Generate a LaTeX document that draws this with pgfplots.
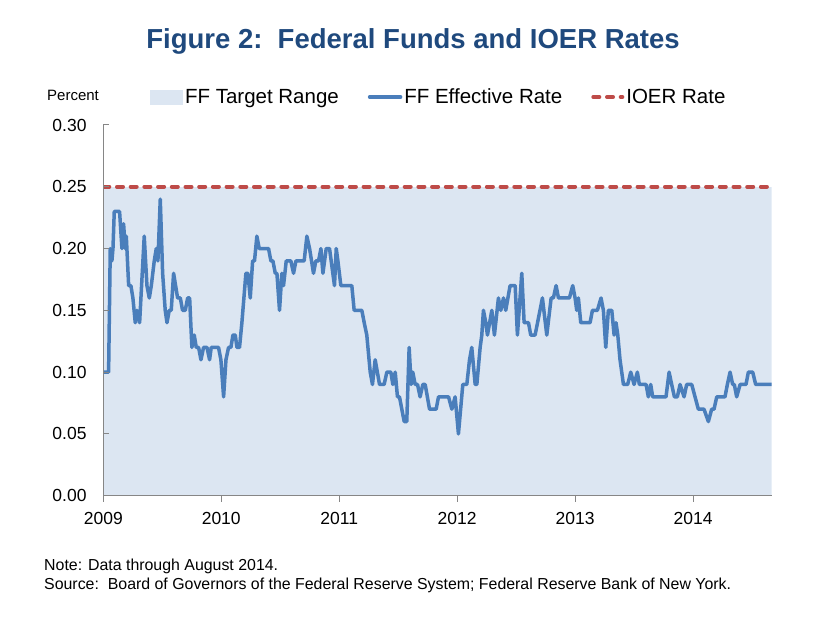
\documentclass[border=0pt]{standalone}
\usepackage{fontspec}
\setmainfont{Liberation Sans}
\usepackage{pgfplots}
\pgfplotsset{compat=1.18}
\definecolor{titleblue}{HTML}{1F497D}
\definecolor{ffblue}{HTML}{4A7EBB}
\definecolor{ioerred}{HTML}{BE4B48}
\definecolor{rangefill}{HTML}{DCE6F2}
\definecolor{axgray}{HTML}{868686}
\begin{document}
\begin{tikzpicture}
\path[use as bounding box] (0pt,0pt) rectangle (824pt,617pt);
\node[anchor=base, text=titleblue, font=\fontsize{27.5}{30}\selectfont\bfseries, inner sep=0pt] at (413pt,568.7pt) {Figure 2:\ \ Federal Funds and IOER Rates};
\node[anchor=base west, font=\fontsize{15}{17}\selectfont, inner sep=0pt] at (47pt,516pt) {Percent};
\node[anchor=base west, font=\fontsize{15.9}{18}\selectfont, inner sep=0pt] at (44pt,46.3pt) {Note: Data through August 2014.};
\node[anchor=base west, font=\fontsize{15.9}{18}\selectfont, inner sep=0pt] at (44pt,27.7pt) {Source:\ \ Board of Governors of the Federal Reserve System; Federal Reserve Bank of New York.};
\begin{axis}[
  at={(103.3pt,121.3pt)}, anchor=south west,
  scale only axis, width=668.4pt, height=370.7pt,
  xmin=2009, xmax=2014.667, ymin=0, ymax=0.30,
  enlargelimits=false,
  axis lines*=left,
  axis line style={draw=axgray, line width=1pt},
  axis on top,
  xtick={2009,2010,2011,2012,2013,2014},
  xticklabels={2009,2010,2011,2012,2013,2014},
  ytick={0,0.05,0.10,0.15,0.20,0.25,0.30},
  xtick align=outside, ytick align=inside,
  major tick length=6pt,
  tick style={draw=axgray, line width=1pt},
  yticklabel style={font=\fontsize{17.5}{20}\selectfont, inner sep=0pt, xshift=-16.6pt,
    /pgf/number format/.cd, fixed, fixed zerofill, precision=2, assume math mode=true},
  xticklabel style={font=\fontsize{17.5}{20}\selectfont, inner sep=0pt, yshift=-10pt},
  legend style={at={(0.0699,1.0755)}, anchor=west, draw=none, fill=none, inner sep=0pt, outer sep=0pt,
    font=\fontsize{20.5}{22}\selectfont, legend columns=3,
    nodes={inner sep=0pt},
    /tikz/every odd column/.style={column sep=2pt},
    /tikz/every even column/.style={column sep=29pt}},
  legend cell align=left,
]
\addplot[fill=rangefill, draw=none, area legend,
  legend image code/.code={\fill[rangefill] (0pt,-7.5pt) rectangle (33pt,7.5pt);}]
  coordinates {(2009,0.25) (2014.667,0.25)} \closedcycle;
\addlegendentry{FF Target Range}
\addplot[color=ffblue, line width=3.5pt, line join=round, line cap=round,
  legend image code/.code={\draw[ffblue, line width=3.5pt] (0pt,0pt) -- (31pt,0pt);}]
  coordinates {
(2009.003,0.10) (2009.045,0.10) (2009.059,0.20) (2009.073,0.19) (2009.082,0.20)
(2009.093,0.23) (2009.138,0.23) (2009.158,0.20) (2009.172,0.22) (2009.186,0.20)
(2009.195,0.21) (2009.215,0.17) (2009.234,0.17) (2009.251,0.16) (2009.271,0.14)
(2009.285,0.15) (2009.308,0.14) (2009.319,0.16) (2009.347,0.21) (2009.370,0.17)
(2009.390,0.16) (2009.407,0.17) (2009.432,0.19) (2009.449,0.20) (2009.463,0.19)
(2009.483,0.24) (2009.503,0.18) (2009.525,0.15) (2009.540,0.14) (2009.559,0.15)
(2009.576,0.15) (2009.596,0.18) (2009.630,0.16) (2009.653,0.16) (2009.672,0.15)
(2009.695,0.15) (2009.715,0.16) (2009.732,0.16) (2009.751,0.12) (2009.771,0.13)
(2009.788,0.12) (2009.808,0.12) (2009.828,0.11) (2009.850,0.12) (2009.879,0.12)
(2009.901,0.11) (2009.915,0.12) (2009.977,0.12) (2009.997,0.11) (2010.020,0.08)
(2010.040,0.11) (2010.062,0.12) (2010.082,0.12) (2010.099,0.13) (2010.119,0.13)
(2010.133,0.12) (2010.155,0.12) (2010.175,0.14) (2010.209,0.18) (2010.226,0.18)
(2010.246,0.16) (2010.266,0.19) (2010.282,0.19) (2010.302,0.21) (2010.322,0.20)
(2010.401,0.20) (2010.421,0.19) (2010.438,0.19) (2010.458,0.18) (2010.472,0.18)
(2010.494,0.15) (2010.514,0.18) (2010.528,0.17) (2010.551,0.19) (2010.590,0.19)
(2010.613,0.18) (2010.633,0.19) (2010.703,0.19) (2010.726,0.21) (2010.749,0.20)
(2010.782,0.18) (2010.802,0.19) (2010.825,0.19) (2010.845,0.20) (2010.862,0.18)
(2010.890,0.20) (2010.918,0.20) (2010.946,0.18) (2010.960,0.17) (2010.975,0.20)
(2010.989,0.19) (2011.014,0.17) (2011.031,0.17) (2011.107,0.17) (2011.127,0.15)
(2011.192,0.15) (2011.212,0.14) (2011.234,0.13) (2011.263,0.10) (2011.282,0.09)
(2011.305,0.11) (2011.342,0.09) (2011.381,0.09) (2011.404,0.10) (2011.438,0.10)
(2011.455,0.09) (2011.475,0.10) (2011.494,0.08) (2011.511,0.08) (2011.551,0.06)
(2011.573,0.06) (2011.593,0.12) (2011.610,0.09) (2011.624,0.10) (2011.644,0.09)
(2011.664,0.09) (2011.686,0.08) (2011.709,0.09) (2011.729,0.09) (2011.766,0.07)
(2011.822,0.07) (2011.842,0.08) (2011.927,0.08) (2011.955,0.07) (2011.983,0.08)
(2012.011,0.05) (2012.048,0.09) (2012.082,0.09) (2012.105,0.11) (2012.124,0.12)
(2012.153,0.09) (2012.167,0.09) (2012.195,0.12) (2012.209,0.13) (2012.223,0.15)
(2012.243,0.14) (2012.257,0.13) (2012.294,0.15) (2012.316,0.13) (2012.350,0.16)
(2012.370,0.15) (2012.393,0.16) (2012.412,0.15) (2012.449,0.17) (2012.492,0.17)
(2012.511,0.13) (2012.548,0.18) (2012.568,0.14) (2012.605,0.14) (2012.624,0.13)
(2012.661,0.13) (2012.723,0.16) (2012.760,0.13) (2012.797,0.16) (2012.816,0.16)
(2012.839,0.17) (2012.859,0.16) (2012.952,0.16) (2012.980,0.17) (2013.000,0.16)
(2013.014,0.15) (2013.028,0.16) (2013.048,0.14) (2013.127,0.14) (2013.147,0.15)
(2013.189,0.15) (2013.220,0.16) (2013.240,0.15) (2013.260,0.12) (2013.282,0.15)
(2013.311,0.15) (2013.331,0.13) (2013.347,0.14) (2013.362,0.13) (2013.381,0.11)
(2013.410,0.09) (2013.446,0.09) (2013.472,0.10) (2013.500,0.09) (2013.528,0.10)
(2013.545,0.09) (2013.602,0.09) (2013.621,0.08) (2013.641,0.09) (2013.658,0.08)
(2013.771,0.08) (2013.797,0.10) (2013.819,0.09) (2013.842,0.08) (2013.867,0.08)
(2013.890,0.09) (2013.924,0.08) (2013.946,0.09) (2013.989,0.09) (2014.017,0.08)
(2014.045,0.07) (2014.093,0.07) (2014.130,0.06) (2014.158,0.07) (2014.178,0.07)
(2014.201,0.08) (2014.271,0.08) (2014.291,0.09) (2014.314,0.10) (2014.336,0.09)
(2014.350,0.09) (2014.370,0.08) (2014.399,0.09) (2014.449,0.09) (2014.469,0.10)
(2014.506,0.10) (2014.531,0.09) (2014.667,0.09)
  };
\addlegendentry{FF Effective Rate}
\addplot[color=ioerred, line width=4pt, line cap=round, dash pattern=on 6pt off 7.7pt,
  legend image code/.code={\draw[ioerred, line width=4pt, line cap=round, dash pattern=on 6pt off 7.7pt] (2pt,0pt) -- (31pt,0pt);}]
  coordinates {(2009,0.25) (2014.667,0.25)};
\addlegendentry{IOER Rate}
\end{axis}
\end{tikzpicture}
\end{document}
